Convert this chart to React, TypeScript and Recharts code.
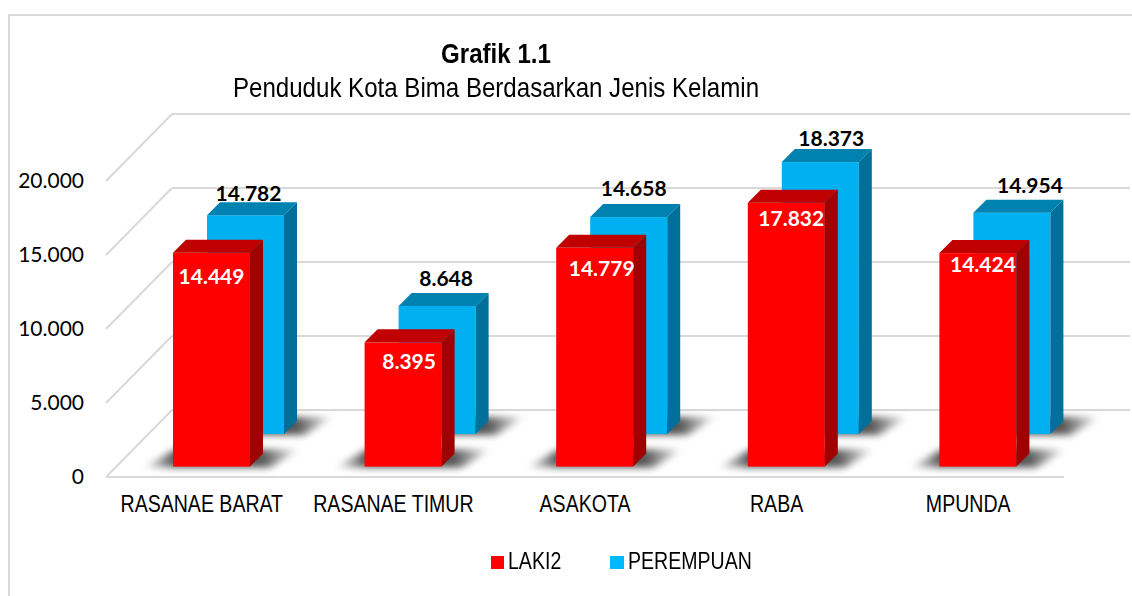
import { Bar, BarChart, CartesianGrid, LabelList, Legend, XAxis, YAxis } from 'recharts';

const KECAMATAN = ['RASANAE BARAT', 'RASANAE TIMUR', 'ASAKOTA', 'RABA', 'MPUNDA'];
const LAKI2 = [14449, 8395, 14779, 17832, 14424];
const PEREMPUAN = [14782, 8648, 14658, 18373, 14954];
const Y_TICKS = [0, 5000, 10000, 15000, 20000];

// label di gambar asli digeser manual per batang
const RED_LABEL_NUDGE = [[0, 31.5], [6, 26.5], [7, 28.5], [5, 23], [5, 18.5]];
const BLUE_LABEL_NUDGE = [[3, -14.5], [9, -20.5], [5, -21.5], [11, -16.5], [18, -19.5]];

const data = KECAMATAN.map((name, i) => ({ name, laki2: LAKI2[i], perempuan: PEREMPUAN[i] }));

const WIDTH = 1132;
const HEIGHT = 596;
const FLOOR_Y = 476;
const GRID = '#d9d9d9';
const SANS = '"Liberation Sans", sans-serif';
const LABEL_FONT = 'Lato, sans-serif';
const NARROW_SCALE = 0.85;

// geser dari posisi bawaan recharts ke posisi "3D"
const SHIFT_X = 27;
const RED_SHIFT_Y = -10.4;
const BLUE_SHIFT_Y = -43;
const DEPTH = 13;

const fmt = (v: number | string) => String(v).replace(/\B(?=(\d{3})+$)/g, '.');

function grid3d(props: any) {
  const { x1, y1, x2, y2 } = props;
  return (
    <g key={props.key} stroke={GRID} strokeWidth={2} fill="none">
      <line x1={x1} y1={y1} x2={x1 + 66} y2={y1 - 67} />
      <line x1={x1 + 66} y1={y1 - 67} x2={x2 + 66} y2={y2 - 67} />
      {y1 >= FLOOR_Y - 1 && <line x1={x1} y1={y1} x2={x2} y2={y2} />}
    </g>
  );
}

function box3d(shiftY: number, face: string, top: string, side: string) {
  return (props: any) => {
    const x = props.x + SHIFT_X;
    const y = props.y + shiftY;
    const w = props.width;
    const h = props.height;
    const b = y + h;
    const gradId = `shadow-${face.slice(1)}-${props.index}`;
    return (
      <g>
        <defs>
          <linearGradient id={gradId} x1="0" y1="0" x2="1" y2="0">
            <stop offset="0" stopColor="#444" stopOpacity={0} />
            <stop offset="0.2" stopColor="#444" stopOpacity={0.9} />
            <stop offset="0.76" stopColor="#444" stopOpacity={0.9} />
            <stop offset="1" stopColor="#444" stopOpacity={0} />
          </linearGradient>
        </defs>
        <polygon
          points={`${x - 30},${b + 1} ${x + w + 20},${b + 1} ${x + w + 50},${b - 17} ${x + 2},${b - 17}`}
          fill={`url(#${gradId})`}
          style={{ filter: 'blur(3.5px)' }}
        />
        <rect x={x} y={y} width={w} height={h} fill={face} />
        <polygon
          points={`${x},${y} ${x + DEPTH},${y - DEPTH} ${x + w + DEPTH},${y - DEPTH} ${x + w},${y}`}
          fill={top}
        />
        <polygon
          points={`${x + w},${y} ${x + w + DEPTH},${y - DEPTH} ${x + w + DEPTH},${b - DEPTH} ${x + w},${b}`}
          fill={side}
        />
      </g>
    );
  };
}

function redLabel(props: any) {
  const { x, y, width, value, index } = props;
  const [dx, dy] = RED_LABEL_NUDGE[index];
  return (
    <text
      x={x + SHIFT_X + width / 2 + dx}
      y={y + RED_SHIFT_Y + dy}
      textAnchor="middle"
      fill="#fff"
      fontFamily={LABEL_FONT}
      fontWeight={700}
      fontSize={21}
    >
      {fmt(value)}
    </text>
  );
}

function blueLabel(props: any) {
  const { x, y, width, value, index } = props;
  const [dx, dy] = BLUE_LABEL_NUDGE[index];
  return (
    <text
      x={x + SHIFT_X + width / 2 + dx}
      y={y + BLUE_SHIFT_Y + dy}
      textAnchor="middle"
      fill="#000"
      fontFamily={LABEL_FONT}
      fontWeight={700}
      fontSize={21}
    >
      {fmt(value)}
    </text>
  );
}

function narrowTick(props: any) {
  const { x, y, payload } = props;
  return (
    <text
      transform={`translate(${x},${y + 18}) scale(${NARROW_SCALE},1)`}
      textAnchor="middle"
      fontFamily={SANS}
      fontSize={23}
      fill="#000"
    >
      {payload.value}
    </text>
  );
}

function legendContent(props: any) {
  const pos = [491, 610];
  // batang biru digambar dulu supaya tertutup merah, legend tetap merah dulu
  const items = [...props.payload].reverse();
  return (
    <div style={{ position: 'relative', height: 30, fontFamily: SANS, fontSize: 23, color: '#000' }}>
      {items.map((p: any, i: number) => (
        <div key={p.value} style={{ position: 'absolute', left: pos[i], top: 0, lineHeight: '30px', whiteSpace: 'nowrap' }}>
          <span
            style={{
              display: 'inline-block',
              width: i === 0 ? 13 : 14,
              height: 13,
              marginRight: 4,
              background: i === 0 ? '#ff0000' : '#00b8ff',
            }}
          />
          <span style={{ display: 'inline-block', transform: `scaleX(${NARROW_SCALE})`, transformOrigin: 'left center' }}>
            {p.value}
          </span>
        </div>
      ))}
    </div>
  );
}

export default function App() {
  return (
    <div style={{ position: 'absolute', left: 0, top: 0, width: WIDTH, height: HEIGHT, background: '#fff', overflow: 'hidden' }}>
      <div style={{ position: 'absolute', left: 8, top: 14, width: WIDTH, height: HEIGHT, borderLeft: `2px solid ${GRID}`, borderTop: `2px solid ${GRID}` }} />
      <BarChart
        width={WIDTH}
        height={HEIGHT}
        data={data}
        margin={{ top: 181, right: 68, bottom: 0, left: 0 }}
        barSize={77}
        barGap={-111}
        style={{ position: 'absolute', left: 0, top: 0 }}
      >
        <CartesianGrid vertical={false} horizontal={grid3d} />
        <XAxis
          dataKey="name"
          axisLine={false}
          tickLine={false}
          tickMargin={11}
          height={89}
          interval={0}
          tick={narrowTick}
        />
        <YAxis
          width={106}
          domain={[0, 20000]}
          ticks={Y_TICKS}
          axisLine={false}
          tickLine={false}
          tickSize={0}
          tickMargin={22}
          tickFormatter={fmt}
          tick={{ fontFamily: LABEL_FONT, fontSize: 21, fill: '#000' }}
        />
        <Legend
          verticalAlign="bottom"
          content={legendContent}
          itemSorter={null}
          wrapperStyle={{ left: 0, width: WIDTH, bottom: 20 }}
        />
        <Bar
          dataKey="perempuan"
          name="PEREMPUAN"
          fill="#00b0f0"
          isAnimationActive={false}
          shape={box3d(BLUE_SHIFT_Y, '#00b0f0', '#0082b0', '#00709a')}
        >
          <LabelList dataKey="perempuan" content={blueLabel} />
        </Bar>
        <Bar
          dataKey="laki2"
          name="LAKI2"
          fill="#ff0000"
          isAnimationActive={false}
          shape={box3d(RED_SHIFT_Y, '#ff0000', '#c00000', '#a00000')}
        >
          <LabelList dataKey="laki2" content={redLabel} />
        </Bar>
      </BarChart>
      <div style={{ position: 'absolute', left: 0, top: 37, width: 992, textAlign: 'center', fontFamily: SANS, color: '#000', fontSize: 28, lineHeight: '34px', transform: `scaleX(${NARROW_SCALE + 0.01})` }}>
        <div style={{ fontWeight: 700 }}>Grafik 1.1</div>
        <div>Penduduk Kota Bima Berdasarkan Jenis Kelamin</div>
      </div>
    </div>
  );
}
